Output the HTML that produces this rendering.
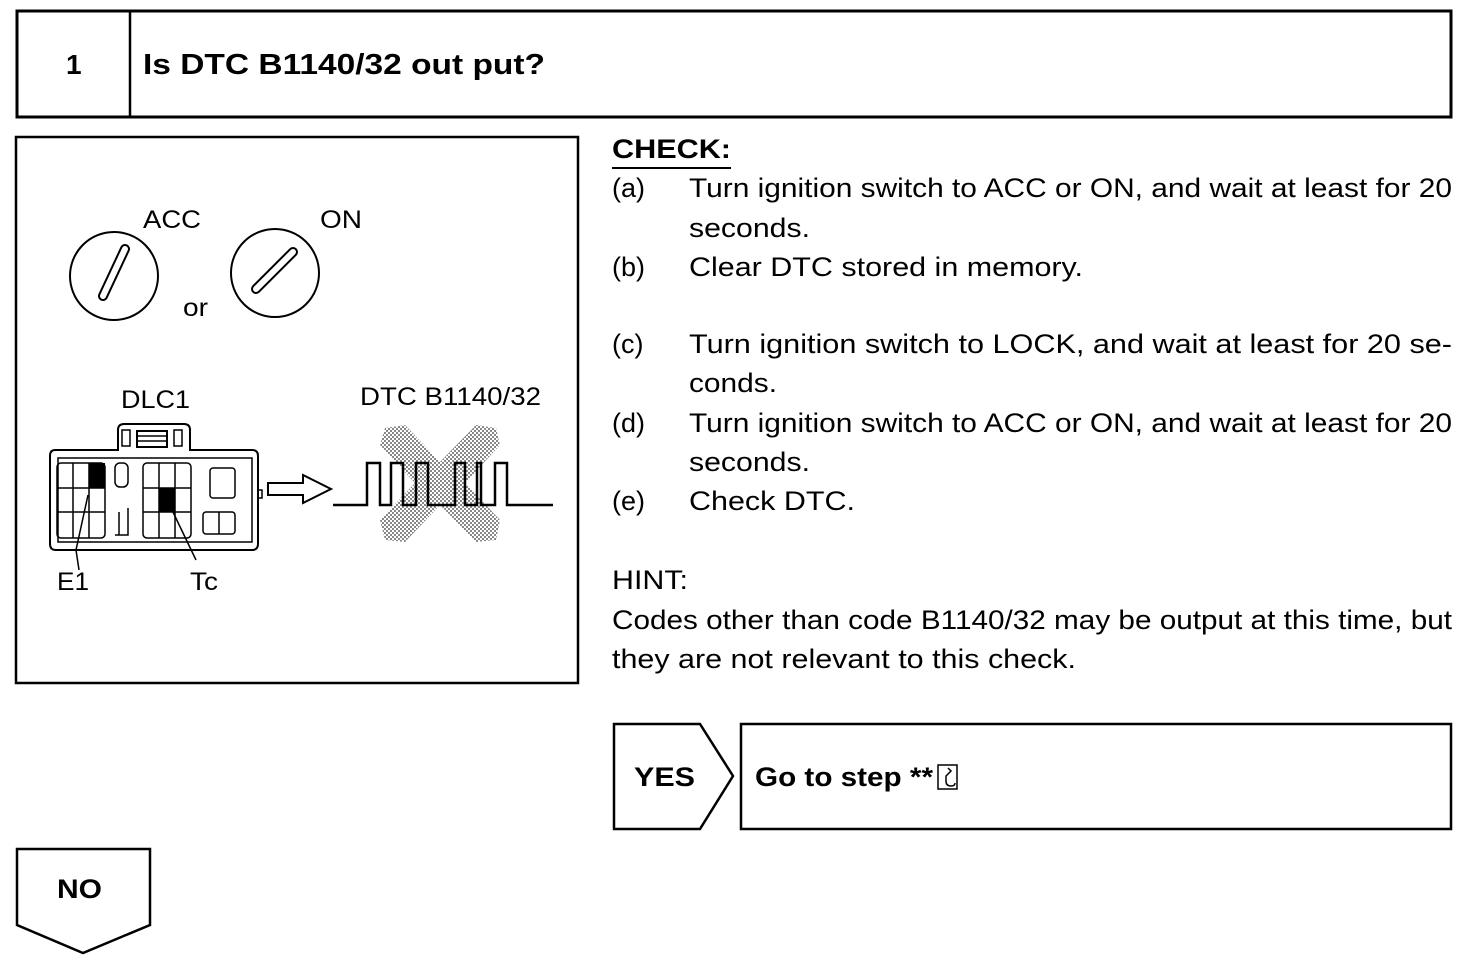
<!DOCTYPE html>
<html><head><meta charset="utf-8"><style>
html,body{margin:0;padding:0;background:#fff;}
svg{display:block;font-family:"Liberation Sans",Arial,sans-serif;}
</style></head><body>
<svg width="1472" height="964" viewBox="0 0 1472 964" xmlns="http://www.w3.org/2000/svg">
<defs>
<pattern id="dots" width="4" height="4" patternUnits="userSpaceOnUse"><rect width="4" height="4" fill="#fff"/><rect width="2" height="2" fill="#888"/><rect x="2" y="2" width="2" height="2" fill="#888"/></pattern>
</defs>
<g fill="none" stroke="#000">
<rect x="17" y="11" width="1434" height="106" stroke-width="3"/>
<line x1="130" y1="11" x2="130" y2="117" stroke-width="2.5"/>
<rect x="16" y="137" width="562" height="546" stroke-width="2.5"/>
<polygon points="614,724 700,724 733,776 700,829 614,829" stroke-width="2.5"/>
<rect x="741" y="724" width="710" height="105" stroke-width="2.5"/>
<polygon points="17,849 150,849 150,925 83,953 17,925" stroke-width="2.5"/>
<line x1="612" y1="168" x2="731" y2="168" stroke-width="2"/>
<circle cx="114" cy="276" r="44" stroke-width="2"/>
<circle cx="275" cy="273" r="44" stroke-width="2"/>
<line x1="103" y1="296" x2="125" y2="249" stroke-width="10" stroke-linecap="round"/>
<line x1="103" y1="296" x2="125" y2="249" stroke="#fff" stroke-width="6" stroke-linecap="round"/>
<line x1="256" y1="289" x2="293" y2="252" stroke-width="10" stroke-linecap="round"/>
<line x1="256" y1="289" x2="293" y2="252" stroke="#fff" stroke-width="6" stroke-linecap="round"/>
<path d="M55,450 H118 V430 Q118,424 124,424 H184 Q190,424 190,430 V450 H252 Q258,450 258,456 V544 Q258,550 252,550 H56 Q50,550 50,544 V456 Q50,450 55,450 Z" stroke-width="2"/>
<rect x="58" y="458" width="194" height="84" stroke-width="1.5"/>
<rect x="122" y="430" width="8" height="16" stroke-width="1.5"/>
<rect x="174" y="430" width="8" height="16" stroke-width="1.5"/>
<rect x="137" y="431" width="30" height="16" stroke-width="2"/>
<line x1="137" y1="436" x2="167" y2="436" stroke-width="1.5"/><line x1="137" y1="441" x2="167" y2="441" stroke-width="1.5"/>
<g stroke-width="1.5">
<rect x="57" y="463" width="48" height="75" rx="4"/>
<line x1="73" y1="463" x2="73" y2="538"/><line x1="89" y1="463" x2="89" y2="538"/>
<line x1="57" y1="488" x2="105" y2="488"/><line x1="57" y1="512" x2="105" y2="512"/>
<rect x="115" y="463" width="13" height="24" rx="5"/>
<path d="M119,535 V512 M128,508 V535 H115"/>
<rect x="143" y="463" width="48" height="75" rx="4"/>
<line x1="159" y1="463" x2="159" y2="538"/><line x1="175" y1="463" x2="175" y2="538"/>
<line x1="143" y1="488" x2="191" y2="488"/><line x1="143" y1="512" x2="191" y2="512"/>
<rect x="210" y="468" width="25" height="30" rx="3"/>
<rect x="203" y="512" width="32" height="22" rx="3"/><line x1="219" y1="512" x2="219" y2="534"/>
<path d="M258,490 h4 v8 h-4"/>
</g>
<line x1="76" y1="550" x2="88" y2="495" stroke-width="1.5"/>
<line x1="79" y1="570" x2="76" y2="550" stroke-width="1.5"/>
<line x1="172" y1="510" x2="196" y2="560" stroke-width="1.5"/>
<path d="M268,483 H303 V475 L331,489 L303,503 V495 H268 Z" stroke-width="2"/>
<polygon points="385,428 405,425 440,462 476,425 496,428 500,445 465,483 500,520 496,540 476,542 440,505 405,542 385,540 380,520 415,483 380,445" fill="url(#dots)" stroke="none"/>
<polyline points="333,505 367,505 367,463 380,463 380,505 391,505 391,463 403,463 403,505 416,505 416,463 428,463 428,505 455,505 455,463 465,463 465,505 477,505 477,463 481,463 481,505 495,505 495,463 507,463 507,505 553,505" stroke-width="2.5"/>
</g>
<rect x="89" y="463" width="16" height="25" fill="#000"/>
<rect x="159" y="488" width="16" height="24" fill="#000"/>
<g fill="#000" lengthAdjust="spacingAndGlyphs">
<text x="66" y="74" font-size="28" font-weight="bold">1</text>
<text x="143" y="74" font-size="29" font-weight="bold" textLength="402" lengthAdjust="spacingAndGlyphs">Is DTC B1140/32 out put?</text>
<g font-size="25">
<text x="143" y="228" textLength="58" lengthAdjust="spacingAndGlyphs">ACC</text>
<text x="320" y="228" textLength="42" lengthAdjust="spacingAndGlyphs">ON</text>
<text x="183" y="316" textLength="25" lengthAdjust="spacingAndGlyphs">or</text>
<text x="121" y="408" textLength="69" lengthAdjust="spacingAndGlyphs">DLC1</text>
<text x="360" y="405" textLength="181" lengthAdjust="spacingAndGlyphs">DTC B1140/32</text>
<text x="57" y="590" textLength="32" lengthAdjust="spacingAndGlyphs">E1</text>
<text x="190" y="590" textLength="28" lengthAdjust="spacingAndGlyphs">Tc</text>
</g>
<g font-size="27">
<text x="612" y="158" font-weight="bold" textLength="119" lengthAdjust="spacingAndGlyphs">CHECK:</text>
<text x="612" y="197">(a)</text><text x="689" y="197" textLength="763" lengthAdjust="spacingAndGlyphs">Turn ignition switch to ACC or ON, and wait at least for 20</text>
<text x="689" y="237" textLength="121" lengthAdjust="spacingAndGlyphs">seconds.</text>
<text x="612" y="276">(b)</text><text x="689" y="276" textLength="394" lengthAdjust="spacingAndGlyphs">Clear DTC stored in memory.</text>
<text x="612" y="353">(c)</text><text x="689" y="353" textLength="763" lengthAdjust="spacingAndGlyphs">Turn ignition switch to LOCK, and wait at least for 20 se-</text>
<text x="689" y="392" textLength="88" lengthAdjust="spacingAndGlyphs">conds.</text>
<text x="612" y="432">(d)</text><text x="689" y="432" textLength="763" lengthAdjust="spacingAndGlyphs">Turn ignition switch to ACC or ON, and wait at least for 20</text>
<text x="689" y="471" textLength="121" lengthAdjust="spacingAndGlyphs">seconds.</text>
<text x="612" y="510">(e)</text><text x="689" y="510" textLength="166" lengthAdjust="spacingAndGlyphs">Check DTC.</text>
<text x="612" y="589" textLength="76" lengthAdjust="spacingAndGlyphs">HINT:</text>
<text x="612" y="629" textLength="840" lengthAdjust="spacingAndGlyphs">Codes other than code B1140/32 may be output at this time, but</text>
<text x="612" y="668" textLength="464" lengthAdjust="spacingAndGlyphs">they are not relevant to this check.</text>
<text x="634" y="786" font-weight="bold" textLength="61" lengthAdjust="spacingAndGlyphs">YES</text>
<text x="755" y="786" font-weight="bold" textLength="178" lengthAdjust="spacingAndGlyphs">Go to step **</text>
<text x="57" y="898" font-weight="bold" textLength="45" lengthAdjust="spacingAndGlyphs">NO</text>
</g>
</g>
<rect x="938" y="765" width="19" height="24" fill="none" stroke="#000" stroke-width="1.5"/>
<path d="M948,768 l3,3 -5,5 v5 q0,5 5,5 q4,0 4,-3" fill="none" stroke="#000" stroke-width="1.5"/>
</svg>
</body></html>
